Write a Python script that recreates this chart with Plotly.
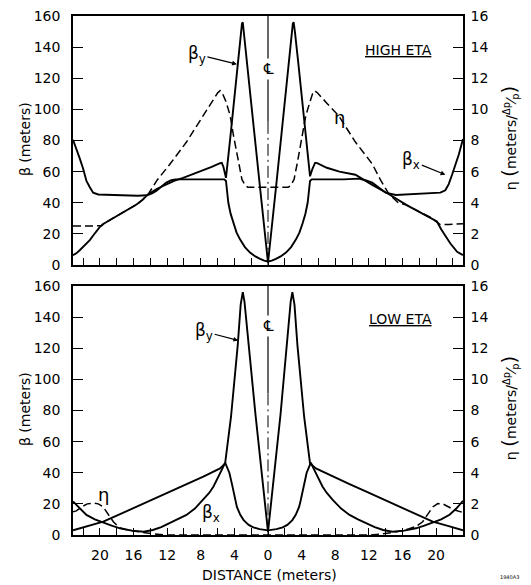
import plotly.graph_objects as go

# ---------------- data ----------------
X_RANGE = [-23.2, 23.2]
BETA_RANGE = [0, 160]
ETA_RANGE = [0, 16]
BETA_TICKS = [0, 20, 40, 60, 80, 100, 120, 140, 160]
ETA_TICKS = [0, 2, 4, 6, 8, 10, 12, 14, 16]
DIST_TICKS = [-20, -16, -12, -8, -4, 0, 4, 8, 12, 16, 20]
DIST_TICK_TEXT = ["20", "16", "12", "8", "4", "0", "4", "8", "12", "16", "20"]
DIST_MINOR_TICKS = [-22, -18, -14, -10, -6, -2, 2, 6, 10, 14, 18, 22]

# HIGH ETA panel
S_BX_TOP = [-23.2, -22.8, -22.4, -22.0, -21.6, -21.2, -20.8, -20.2, -19.0, -17.0, -15.5, -14.4,
            -13.8, -13.3, -12.7, -12.1, -11.5, -11.0, -9.0, -7.0, -5.2, -5.0, -4.85, -4.72,
            -4.45, -4.13, -3.75, -3.33, -2.75, -2.14, -1.5, -0.95, -0.45, 0.0,
            0.45, 0.95, 1.5, 2.14, 2.75, 3.33, 3.75, 4.13, 4.45, 4.72, 4.85, 5.0, 5.2,
            7.0, 9.0, 10.8, 11.6, 12.4, 13.2, 14.0, 15.2, 17.0, 19.0, 20.5, 21.1, 21.5,
            21.9, 22.3, 22.7, 23.2]
BX_TOP = [80.5, 75, 68.5, 62, 54, 50, 46.5, 45.3, 45, 44.7, 44.5, 44.8,
          46, 47.6, 50.5, 53, 54.5, 55, 55, 55, 55, 54, 47, 40,
          33, 27, 21, 16.5, 11.5, 8, 5.5, 4, 2.8, 2.3,
          2.8, 4, 5.5, 8, 11.5, 16.5, 21, 27, 33, 40, 47, 54, 55,
          55, 55, 55.5, 54.5, 52.9, 49.5, 46.5, 45, 45.5, 46, 46.5, 48, 52,
          58, 64, 71, 81]

S_BY_TOP = [-23.2, -22.8, -22.4, -21.8, -21.2, -20.8, -20.4, -20.0, -19.6, -18.6, -17.6, -16.6,
            -15.6, -14.9, -14.25, -13.2, -12.1, -11.1, -10.1, -8.9, -7.7, -6.7, -5.7, -5.5,
            -5.3, -5.0, -4.5, -4.0, -3.5, -3.25, -3.1, -3.0, -2.9, -2.0, -1.0, 0.0,
            1.0, 2.0, 2.8, 2.95, 3.05, 3.2, 3.6, 4.1, 4.6, 5.0, 5.3, 5.6, 5.8,
            7.0, 8.5, 10.4, 12.4, 14.4, 16.5, 18.5, 19.3, 20.1, 20.6, 21.1, 21.7, 22.5, 23.2]
BY_TOP = [6.3, 7.5, 9.5, 12.5, 16, 19, 22, 24.5, 26.4, 29.5, 32.8, 36,
          39, 42, 45.5, 49, 52, 54.2, 56, 58.5, 60.7, 63, 65.4, 65.6,
          63, 56, 81, 107, 132, 148, 155, 156, 151, 104, 52.5, 1.5,
          52.5, 104, 148, 155, 156, 150, 130, 105, 80, 57, 62, 65.6, 65.6,
          62.5, 60, 58, 51.5, 45.5, 38.5, 32.8, 30.7, 28, 23, 19, 13.8, 8.5, 6.4]

S_ETA_TOP = [-23.2, -21.0, -19.8, -19.6, -18.6, -17.6, -16.6, -15.6, -14.9, -14.25, -13.2,
             -11.7, -9.7, -7.7, -6.5, -6.0, -5.7, -5.4, -5.0, -4.5, -4.1, -3.5, -3.1,
             -2.7, -2.4, 0.0, 2.4, 2.7, 3.1, 3.5, 4.1, 4.5, 5.0, 5.3, 5.56, 5.9, 7.0,
             8.4, 10.4, 12.4, 13.4, 14.4, 15.5, 16.5, 18.5, 19.3, 20.1, 20.5, 21.5, 23.2]
ETA_TOP = [2.5, 2.5, 2.52, 2.64, 2.95, 3.28, 3.6, 3.9, 4.2, 4.55, 5.45,
           6.46, 7.9, 9.6, 10.7, 11.05, 11.2, 11.0, 10.5, 9.6, 8.3, 6.6, 5.5,
           5.1, 5.0, 5.0, 5.0, 5.1, 5.5, 6.6, 8.3, 9.6, 10.5, 11.0, 11.2, 11.05, 10.4,
           9.6, 7.9, 6.5, 5.45, 4.55, 4.0, 3.85, 3.28, 3.07, 2.75, 2.6, 2.6, 2.65]

# LOW ETA panel
S_BX_BOT = [-23.2, -22.4, -21.6, -20.6, -19.6, -18.6, -17.6, -16.2, -14.8, -13.7, -12.7, -11.7,
            -10.7, -9.7, -8.7, -7.7, -7.0, -6.5, -6.0, -5.7, -5.4, -5.1, -4.9, -4.6, -4.3,
            -4.1, -3.9, -3.7, -3.3, -2.9, -2.3, -1.75, -1.0, 0.0,
            1.0, 1.75, 2.3, 2.9, 3.3, 3.7, 3.9, 4.1, 4.3, 4.6, 4.9, 5.1, 5.4, 5.7, 6.0,
            6.5, 7.0, 7.7, 8.7, 9.7, 10.7, 11.7, 12.7, 13.7, 14.8, 16.2, 17.6, 18.6, 19.6,
            20.6, 21.6, 22.4, 23.2]
BX_BOT = [21.5, 17, 12.9, 10, 7.9, 6, 4.3, 2.8, 2.1, 3.2, 5, 7.5,
          10, 12.9, 17, 22.5, 27, 31, 36, 39.7, 43, 46.5, 44, 40, 33,
          28, 22.5, 18, 13, 9.6, 6.5, 4.9, 3.8, 3.0,
          3.8, 4.9, 6.5, 9.6, 13, 18, 22.5, 28, 33, 40, 44, 46.5, 43, 39.7, 36,
          31, 27, 22.5, 17, 12.9, 10, 7.5, 5, 3.2, 2.1, 2.8, 4.3, 6, 7.9,
          10, 13, 17, 22]

S_BY_BOT = [-23.2, -21.6, -19.6, -17.6, -15.6, -13.7, -11.7, -9.7, -7.7, -5.7, -5.1, -4.4,
            -3.6, -3.25, -3.0, -2.8, -1.5, 0.0, 1.5, 2.7, 2.9, 3.15, 3.5, 4.3, 5.0,
            5.7, 7.7, 9.7, 11.7, 13.7, 15.6, 17.6, 19.6, 21.6, 23.2]
BY_BOT = [3, 5.5, 8.6, 13.4, 18.2, 23, 27.8, 32.7, 37.5, 42.8, 46, 76,
          122, 148, 156, 150, 78, 2, 78, 150, 156, 148, 122, 76, 46,
          42.8, 37.5, 32.7, 27.8, 23, 18.2, 13.4, 8.6, 5.5, 3]

S_ETA_BOT = [-23.2, -22.8, -22.2, -21.5, -20.8, -20.2, -19.6, -19.2, -18.8, -18.4, -17.6,
             -16.8, -15.8, -14.8, -13.5, -12.1, 12.1, 13.5, 14.8, 15.8, 16.8, 17.6, 18.4,
             18.8, 19.2, 19.6, 20.2, 20.8, 21.5, 22.2, 23.2]
ETA_BOT = [1.5, 1.55, 1.8, 2.0, 2.05, 2.0, 1.8, 1.5, 1.15, 0.85, 0.45,
           0.33, 0.24, 0.15, 0.06, 0.0, 0.0, 0.06, 0.15, 0.25, 0.4, 0.55, 0.85,
           1.15, 1.5, 1.8, 2.02, 2.0, 1.8, 1.6, 1.45]

# centre line (x, solid top part, dash-dot lower part)
CENTER_X = 0
CL_TOP_SOLID = [160, 92]
CL_TOP_DASH = [92, 0]
CL_BOT_SOLID = [160, 91]
CL_BOT_DASH = [91, 0]

# ---------------- figure ----------------
FONT = "DejaVu Sans"
BLK = "black"
CURVE = dict(color=BLK, width=1.9)
ETA_LINE = dict(color=BLK, width=1.5, dash="8px,4px")

fig = go.Figure()

def add(x, y, xa, ya, line):
    fig.add_trace(go.Scatter(x=x, y=y, xaxis=xa, yaxis=ya, mode="lines",
                             line=line, showlegend=False, hoverinfo="skip"))

# top panel
add([CENTER_X, CENTER_X], CL_TOP_SOLID, "x2", "y2", dict(color=BLK, width=1.2))
add([CENTER_X, CENTER_X], CL_TOP_DASH, "x2", "y2", dict(color=BLK, width=1.0, dash="12px,4px,2px,4px"))
add(S_BX_TOP, BX_TOP, "x2", "y2", CURVE)
add(S_BY_TOP, BY_TOP, "x2", "y2", CURVE)
add(S_ETA_TOP, ETA_TOP, "x2", "y4", ETA_LINE)

# bottom panel
add([CENTER_X, CENTER_X], CL_BOT_SOLID, "x", "y", dict(color=BLK, width=1.2))
add([CENTER_X, CENTER_X], CL_BOT_DASH, "x", "y", dict(color=BLK, width=1.0, dash="12px,4px,2px,4px"))
add(S_BX_BOT, BX_BOT, "x", "y", CURVE)
add(S_BY_BOT, BY_BOT, "x", "y", CURVE)
add(S_ETA_BOT, ETA_BOT, "x", "y3", ETA_LINE)

xcommon = dict(range=X_RANGE, tickmode="array", tickvals=DIST_TICKS, ticktext=DIST_TICK_TEXT,
               ticks="inside", ticklen=7, tickwidth=1.3, tickcolor=BLK,
               minor=dict(tickmode="array", tickvals=DIST_MINOR_TICKS, ticks="inside",
                          ticklen=7, tickwidth=1.3, tickcolor=BLK, showgrid=False),
               showline=True, linewidth=1.5, linecolor=BLK, mirror=True,
               showgrid=False, zeroline=False, automargin=False)
ybeta = dict(range=BETA_RANGE, tickmode="array", tickvals=BETA_TICKS, ticks="inside",
             ticklen=10, tickwidth=1.3, tickcolor=BLK, showline=True, linewidth=1.5,
             linecolor=BLK, showgrid=False, zeroline=False, automargin=False,
             ticklabeloverflow="allow",
             tickfont=dict(size=14, color=BLK), ticklabelstandoff=8)
yeta = dict(range=ETA_RANGE, tickmode="array", tickvals=ETA_TICKS, ticks="inside",
            ticklen=10, tickwidth=1.3, tickcolor=BLK, showline=True, linewidth=1.5,
            linecolor=BLK, showgrid=False, zeroline=False, side="right", automargin=False,
            ticklabeloverflow="allow",
            tickfont=dict(size=14, color=BLK), ticklabelstandoff=3)

TOP_DOM = [0.5202, 1.0]
BOT_DOM = [0.0, 0.4798]

# page body has an 8px margin: figure is sized/placed to compensate
fig.update_layout(
    width=523, height=577,
    margin=dict(l=65, r=68, t=8, b=50),
    paper_bgcolor="white", plot_bgcolor="white",
    font=dict(family=FONT, color=BLK),
    xaxis=dict(domain=[0, 1], anchor="y", tickfont=dict(size=14, color=BLK),
               ticklabelstandoff=6, **xcommon),
    xaxis2=dict(domain=[0, 1], anchor="y2", matches="x", showticklabels=False, **xcommon),
    yaxis=dict(domain=BOT_DOM, anchor="x", **ybeta),
    yaxis2=dict(domain=TOP_DOM, anchor="x2", **ybeta),
    yaxis3=dict(overlaying="y", anchor="x", **yeta),
    yaxis4=dict(overlaying="y2", anchor="x2", **yeta),
)

ann = []
def label(text, x, y, xref, yref, size=17, **kw):
    ann.append(dict(text=text, x=x, y=y, xref=xref, yref=yref, showarrow=False,
                    xanchor="center", yanchor="middle",
                    font=dict(size=size, color=BLK, family=FONT), **kw))

def pointer(text, x, y, xref, yref, ax, ay, size=17):
    ann.append(dict(text=text, x=x, y=y, xref=xref, yref=yref, showarrow=True,
                    ax=ax, ay=ay, arrowhead=2, arrowsize=0.8, arrowwidth=1.2,
                    xanchor="center", yanchor="middle",
                    arrowcolor=BLK, font=dict(size=size, color=BLK, family=FONT)))

# top panel labels
label("<u>HIGH ETA</u>", 15.5, 138, "x2", "y2", size=14)
label("℄", 0, 126, "x2", "y2", size=15, bgcolor="white")
label("η", 8.5, 95, "x2", "y2", size=18)
pointer("β<sub>y</sub>", -3.7, 129, "x2", "y2", -40, -10)
pointer("β<sub>x</sub>", 21.1, 58, "x2", "y2", -34, -14)

# bottom panel labels
label("<u>LOW ETA</u>", 15.8, 139, "x", "y", size=14)
label("℄", 0, 134, "x", "y", size=15, bgcolor="white")
label("η", -19.6, 26, "x", "y", size=18)
label("β<sub>x</sub>", -6.8, 14, "x", "y", size=17)
pointer("β<sub>y</sub>", -3.55, 125, "x", "y", -34, -9)

# axis titles
for yc in (0.763, 0.2428):
    label("β (meters)", -0.123, yc, "paper", "paper", size=14, textangle=-90)
    label("η <span style='font-size:20px'>(</span>meters/<sup>Δp</sup>⁄<sub>p</sub>"
          "<span style='font-size:20px'>)</span>", 1.12, yc + 0.003, "paper", "paper",
          size=14, textangle=-90)
label("DISTANCE (meters)", 0.5026, -0.0771, "paper", "paper", size=14)
label("1940A3", 1.12, -0.081, "paper", "paper", size=5)

fig.update_layout(annotations=ann)
fig.write_html("out.html")
